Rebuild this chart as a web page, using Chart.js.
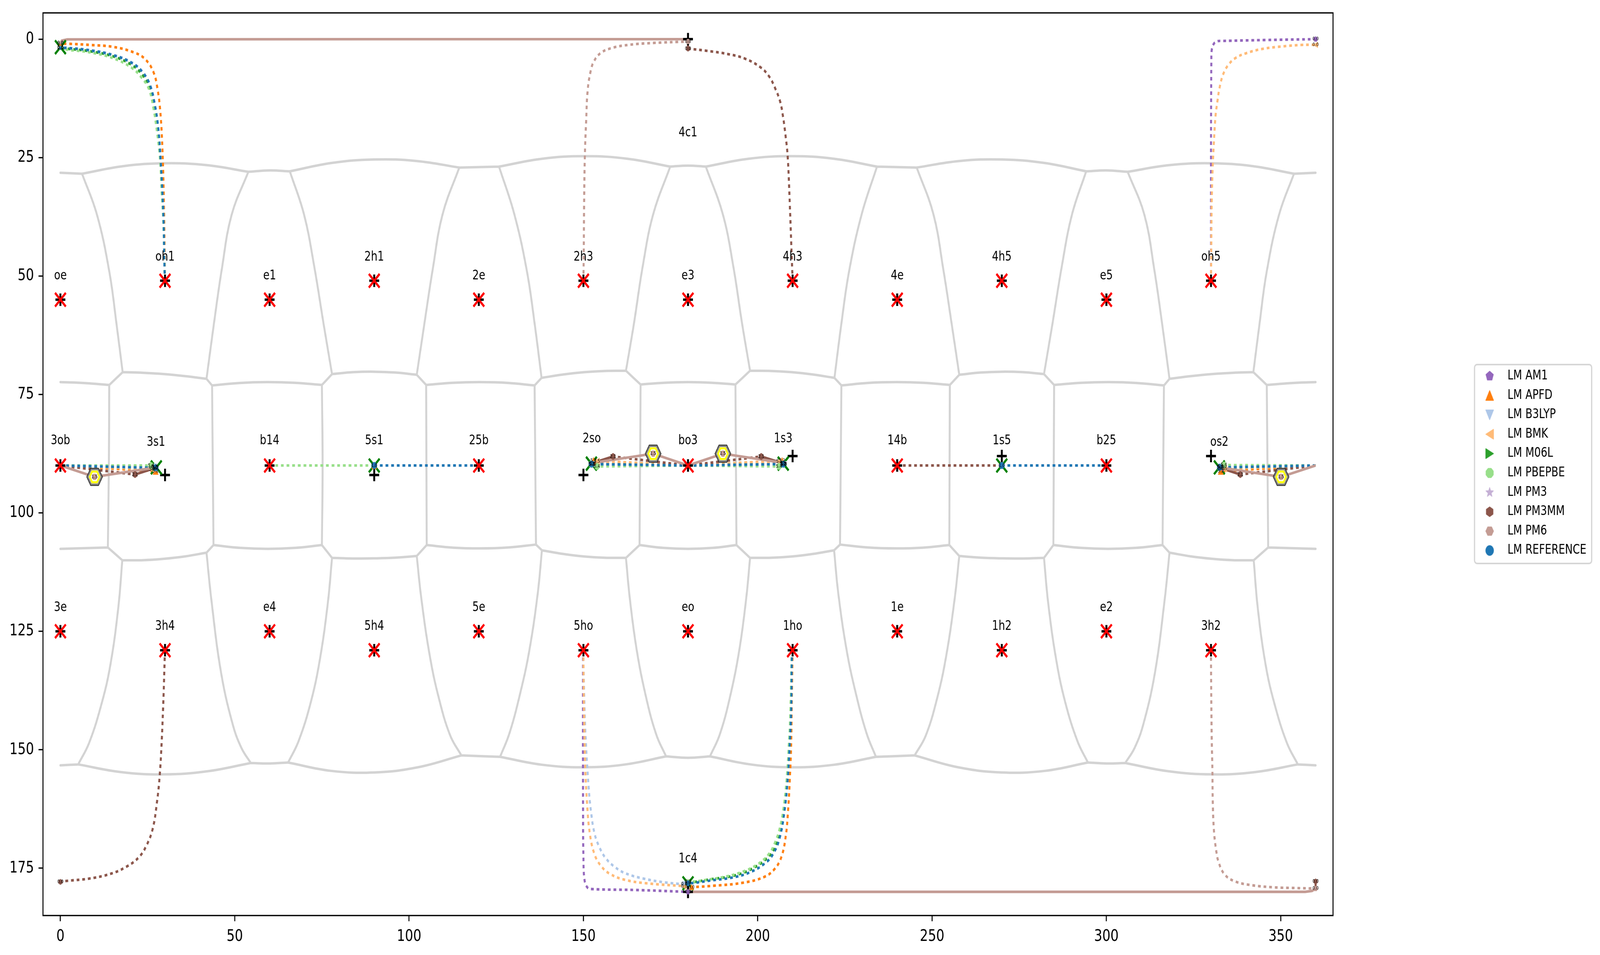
<!DOCTYPE html>
<html><head><meta charset="utf-8">
<style>html,body{margin:0;padding:0;background:#fff;overflow:hidden}canvas{display:block}</style>
<script src="https://cdn.jsdelivr.net/npm/chart.js@4"></script>
</head><body><canvas id="c" width="5190" height="2444"></canvas>
<script>
const xTicks=[0,50,100,150,200,250,300,350];
const yTicks=[0,25,50,75,100,125,150,175];
const methodNames=['LM AM1','LM APFD','LM B3LYP','LM BMK','LM M06L','LM PBEPBE','LM PM3','LM PM3MM','LM PM6','LM REFERENCE'];
const methodColors=['#9467bd','#ff7f0e','#aec7e8','#ffbb78','#2ca02c','#98df8a','#c5b0d5','#8c564b','#c49c94','#1f77b4'];
const methodShapes=['pentagon','triUp','triDown','triLeft','triRight','octagon','star','hexPointy','hexFlat','circle'];

const am1Dotted=[
 [[150,129],[149.9,130.5],[149.9,163.7],[150,172.6],[150.3,177.4],[151.06,179],[152.2,179.4],[164.66,179.6],[180,180]],
 [[330,51],[330,48.9],[330,21.6],[330.06,9.07],[330.1,4.87],[330.2,2.35],[330.7,1.1],[331.7,0.47],[333.2,0.38],[345.7,0.18],[360,0]],
 [[0,90],[26.8,90.6]],[[180,90],[152.8,89.6]],[[180,90],[207.2,89.6]],[[360,90],[333.2,90.6]]];
const apfdDotted=[
 [[30,51],[29.9,46.8],[29.75,37.6],[29.48,28.4],[29.14,21.2],[28.63,15.15],[27.9,10.75],[26.7,6.97],[24.33,4.24],[21.3,2.86],[15.2,1.64],[8.43,1.22],[2,0.97],[0,1]],
 [[210,129],[209.8,137.2],[209.6,148.2],[209.2,156.2],[208.7,162.8],[208.06,168.1],[206.8,172.6],[204.8,175.2],[201.7,176.9],[195.6,178.1],[187.5,178.7],[181.4,179],[180,179]],
 [[0,90],[27.3,91.2]],[[180,90],[152.9,89]],[[180,90],[207,89]],[[360,90],[332.8,91.2]]];
const b3lypDotted=[
 [[30,51],[29.85,48.1],[29.6,38.4],[29.25,32.1],[28.75,25.4],[28.05,18.6],[27.05,13.6],[25.7,9.6],[23.7,7],[20.7,5],[15.2,3.3],[8.4,2.3],[1.7,1.8],[0,1.8]],
 [[150,129],[150,131.4],[150.55,146],[151.5,157.9],[152.2,163.2],[153.2,167.7],[154.6,170.6],[156.4,172.9],[159.1,174.8],[162.1,176.1],[167.2,177.2],[173.3,178],[178.9,178.4],[180,178.4]],
 [[0,90],[26.9,90.3]],[[180,90],[152.5,89.8]],[[180,90],[207.5,89.8]],[[360,90],[332.8,90.3]]];
const bmkDotted=[
 [[150,129],[150,131.4],[150.2,142.9],[150.55,154],[151.06,161.5],[151.8,167.5],[153.1,171.9],[154.9,174.4],[157.6,176.2],[162.1,177.5],[168.2,178.2],[178.9,178.8],[180,178.9]],
 [[330,51],[330.06,46],[330.2,34.2],[330.5,26.7],[330.9,20.8],[331.3,16.2],[331.85,13.06],[332.5,10.1],[333.5,7.39],[334.9,5.5],[336.9,4.04],[340,2.99],[344.7,2.06],[350.8,1.51],[355.9,1.22],[360,1.2]],
 [[0,90],[26.3,90.8]],[[180,90],[153.9,89.1]],[[180,90],[206.2,89.1]],[[360,90],[333.8,90.7]]];
const m06lDotted=[
 [[30,51],[29.85,48.1],[29.55,38.4],[29.1,32.1],[28.65,25.4],[27.9,19],[26.9,14],[25.5,10],[23.5,7.5],[20.6,5.5],[15.2,3.65],[8.4,2.55],[1.7,2],[0,1.85]],
 [[210,129],[209.75,130.5],[209.4,141.6],[208.85,150.4],[208.3,156.6],[207.4,162.8],[206.2,167.5],[204.8,170.8],[202.8,172.8],[198.7,175],[193.6,176.5],[186,177.4],[182,177.9],[180,178]],
 [[0,90],[27.2,90.4]],[[180,90],[152.3,89.7]],[[180,90],[207.5,89.7]],[[360,90],[332.6,90.4]]];
const pbepbeDotted=[
 [[30,51],[29.85,48.1],[29.5,38.4],[29,32.1],[28.56,25.4],[27.7,19.6],[26.7,14.7],[25.35,10.5],[23.3,8.15],[20.6,6.13],[15.2,4.04],[8.43,2.78],[2,2.23],[0,1.9]],
 [[210,129],[209.7,131],[209.4,141.6],[208.8,150.4],[208.2,157],[207.3,162.8],[206.3,166.6],[205,169.5],[203.2,172],[199.7,174.3],[195.1,175.9],[190,176.9],[185,177.5],[182.2,177.8],[180,177.9]],
 [[0,90],[26,90]],[[180,90],[153.9,90.2]],[[180,90],[206.1,90.2]],[[360,90],[333.7,89.9]],[[60,90],[90,90]]];
const pm3Dotted=[];
const pm3mmDotted=[
 [[210,51],[209.7,45],[209.2,35],[208.6,24.9],[208,20.5],[207.2,16.1],[206.4,13.1],[205,10.38],[203.3,7.91],[200.8,5.94],[196.4,4.13],[191.6,3.17],[185.1,2.43],[180,2]],
 [[30,129],[29.9,131],[29.6,138.1],[29.07,147.9],[28.46,155.6],[27.65,161.3],[26.5,166.6],[24.76,170.1],[22.5,172.7],[18.9,174.7],[14.35,176.2],[8.26,177.2],[1.66,177.7],[0,177.9]],
 [[0,90],[21.4,91.9]],[[180,90],[158.5,88.1]],[[180,90],[201,88.1]],[[360,90],[338.4,91.9]],[[240,90],[270,90]]];
const pm6Dotted=[
 [[150,51],[150.1,45],[150.2,35],[150.4,25],[150.8,17],[151.2,11],[152,7],[153,4.7],[155,2.9],[158,1.9],[163,1.2],[170,0.8],[180,0.5]],
 [[330,129],[330,131.8],[330.2,147.3],[330.4,154.4],[330.5,160.6],[330.8,166.6],[331.45,171.1],[332.3,174],[334,176.4],[336.9,177.8],[341.7,178.6],[348.1,179.05],[354.5,179.2],[360,179.3]]];
const referenceDotted=[
 [[30,51],[29.85,48.1],[29.58,38.4],[29.24,32.1],[28.73,25.4],[28.05,18.7],[27.04,13.7],[25.7,9.7],[23.66,7.06],[20.6,5.08],[15.2,3.4],[8.43,2.36],[1.66,1.85],[0,1.85]],
 [[210,129],[209.8,130.5],[209.6,141.6],[209.07,150.4],[208.6,156.2],[207.7,162.8],[206.3,168.6],[204.5,171.9],[202.2,173.9],[197.7,175.9],[192.6,177],[186.5,177.6],[181.9,178.1],[180,178.2]],
 [[0,90],[27.3,90.5]],[[180,90],[152.3,89.7]],[[180,90],[207.3,89.7]],[[360,90],[332.5,90.4]],[[90,90],[120,90]],[[270,90],[300,90]]];
const dottedPaths=[am1Dotted,apfdDotted,b3lypDotted,bmkDotted,m06lDotted,pbepbeDotted,pm3Dotted,pm3mmDotted,pm6Dotted,referenceDotted];

const pm3mmSolid=[[[180,0.5],[180,2]],[[360,177.8],[360,179.3]],[[21.4,91.9],[27.3,90.5]],[[158.5,88.1],[152.6,89.5]],[[201,88.1],[207,89.5]],[[338.4,91.9],[332.6,90.5]]];
const pm6Solid=[[[0,0.8],[0.4,0.3],[2,0.05],[90,0],[180,0]],[[180,180],[357,180],[359,179.8],[360,179.3]],
 [[0,90],[9.8,92.4],[26.7,90.5]],[[180,90],[170,87.5],[153,89.4]],[[180,90],[190,87.5],[207,89.4]],[[360,90],[350.1,92.4],[333.3,90.5]]];
const solidPaths=[[],[],[],[],[],[],[],pm3mmSolid,pm6Solid,[]];

const am1Points=[[360,0,'0.0'],[180,180,'0.0'],[26.8,90.6,'5.6'],[152.8,89.6,'5.6'],[207.2,89.6,'5.6'],[333.2,90.6,'5.6']];
const apfdPoints=[[0,1,'0.0'],[181,179,'0.0'],[27.3,91.2,'5.2'],[152.9,89,'5.2'],[207,89,'5.2'],[332.8,91.2,'5.2'],[90,90,'1.0']];
const b3lypPoints=[[0,1.8,'0.0'],[178.9,178.4,'0.0'],[26.9,90.3,'5.3'],[152.5,89.8,'5.3'],[207.5,89.8,'5.3'],[332.8,90.3,'5.3']];
const bmkPoints=[[360,1.2,'0.0'],[178.9,178.9,'0.0'],[26.3,90.8,'5.5'],[153.9,89.1,'5.5'],[206.2,89.1,'5.5'],[333.8,90.7,'5.5']];
const m06lPoints=[[0,1.85,'0.0'],[180,178,'0.0'],[27.2,90.4,'5.3'],[152.3,89.7,'5.3'],[207.5,89.7,'5.3'],[332.6,90.4,'5.3']];
const pbepbePoints=[[0,1.9,'0.0'],[180,177.9,'0.0'],[26,90,'5.4'],[153.9,90.2,'5.4'],[206.1,90.2,'5.4'],[333.7,89.9,'5.4']];
const pm3Points=[];
const pm3mmPoints=[[180,2,'0.0'],[0,177.9,'0.0'],[360,177.8,'0.0'],[21.4,91.9,'2.1'],[158.5,88.1,'2.1'],[201,88.1,'2.1'],[338.4,91.9,'2.1']];
const pm6Points=[[180,0.5,'0.0'],[360,179.3,'0.0'],[0,0.8,'0.0'],[9.8,92.4,'1.5'],[170,87.5,'1.5'],[190,87.5,'1.5'],[350.1,92.4,'1.5']];
const referencePoints=[[0,1.85,'0.0'],[180,178.2,'0.0'],[27.3,90.5,'5.2'],[152.3,89.7,'5.2'],[207.3,89.7,'5.2'],[332.5,90.4,'5.2'],[90,90,'1.0'],[270,90,'1.0']];
const methodPoints=[am1Points,apfdPoints,b3lypPoints,bmkPoints,m06lPoints,pbepbePoints,pm3Points,pm3mmPoints,pm6Points,referencePoints];
const highlightedX=[9.8,170,190,350.1];
const highlightedY=[92.4,87.5,87.5,92.4];

const nodeX=[0,30,60,90,120,150,180,210,240,270,300,330, 0,60,120,180,240,300, 0,30,60,90,120,150,180,210,240,270,300,330];
const nodeY=[55,51,55,51,55,51,55,51,55,51,55,51, 90,90,90,90,90,90, 125,129,125,129,125,129,125,129,125,129,125,129];
const plusOnlyX=[180,180,30,90,150,210,270,330];
const plusOnlyY=[0,180,92,92,92,88,88,88];
const minimaX=[0,180,27.5,90,152.3,207.3,270,332.4];
const minimaY=[1.7,178.2,90.4,90,89.6,89.6,90,90.4];
const textNames=['oe','oh1','e1','2h1','2e','2h3','e3','4h3','4e','4h5','e5','oh5','3ob','3s1','b14','5s1','25b','2so','bo3','1s3','14b','1s5','b25','os2','3e','3h4','e4','5h4','5e','5ho','eo','1ho','1e','1h2','e2','3h2','4c1','1c4'];
const textX=[0,30,60,90,120,150,180,210,240,270,300,330,0,27.4,60,90,120,152.4,180,207.3,240,270,300,332.4,0,30,60,90,120,150,180,210,240,270,300,330,180,180];
const textY=[50,46,50,46,50,46,50,46,50,46,50,46,84.8,85.1,84.8,84.8,84.8,84.4,84.8,84.4,84.8,84.8,84.8,85.1,120,124,120,124,120,124,120,124,120,124,120,124,19.8,173.1];

const contourSegments=[
 [[0,28.2],[6.2,28.4]],[[6.2,28.4],[18.1,26.8],[30,26.2],[42,26.6],[53.9,28]],[[53.9,28],[60,27.7],[65.8,27.9]],[[65.8,27.9],[77.9,26.12],[90,25.4],[102.2,25.72],[114.4,27.1]],[[114.4,27.1],[125.8,26.9]],[[125.8,26.9],[138.1,25.25],[150.5,24.7],[162.7,25.25],[174.9,26.9]],[[174.9,26.9],[180,26.7],[185.1,26.9]],
 [[185.1,26.9],[197.3,25.25],[209.5,24.7],[221.9,25.25],[234.2,26.9]],[[234.2,26.9],[245.6,27.1]],[[245.6,27.1],[257.8,25.72],[270,25.4],[282.1,26.12],[294.2,27.9]],[[294.2,27.9],[300,27.7],[306.1,28]],[[306.1,28],[318,26.6],[330,26.2],[341.9,26.8],[353.8,28.4]],[[353.8,28.4],[360,28.2]],
 [[6.2,28.4],[10.5,37.1],[14.05,49.2],[16.1,60.2],[17.85,70.3]],[[53.9,28],[49.1,37.1],[46.3,48.5],[44,60.2],[41.9,71.7]],[[65.8,27.9],[69.9,37.1],[72.8,48],[75.5,60.2],[77.9,70.7]],[[114.4,27.1],[109.6,37],[106.8,48.5],[104.4,60],[102.2,70.85]],[[125.8,26.9],[130.2,37],[133.8,49],[136,60],[138,71.5]],[[174.9,26.9],[170,37],[167,48],[164.5,60],[162.2,70]],
 [[185.1,26.9],[190,37],[193,48],[195.5,60],[197.8,70]],[[234.2,26.9],[229.8,37],[226.2,49],[224,60],[222,71.5]],[[245.6,27.1],[250.4,37],[253.2,48.5],[255.6,60],[257.8,70.85]],[[294.2,27.9],[290.1,37.1],[287.2,48],[284.5,60.2],[282.1,70.7]],[[306.1,28],[310.9,37.1],[313.7,48.5],[316,60.2],[318.1,71.7]],[[353.8,28.4],[349.5,37.1],[345.95,49.2],[343.9,60.2],[342.15,70.3]],
 [[0,72.4],[7,72.6],[14,73]],[[14,73],[17.85,70.3]],[[17.85,70.3],[23.8,70.43],[29.8,70.7],[35.8,71.13],[41.9,71.7]],[[41.9,71.7],[43.5,73.1]],[[43.5,73.1],[51.4,72.58],[59.2,72.4],[67.1,72.54],[75,73]],[[75,73],[77.9,70.7]],[[77.9,70.7],[84,70.3],[90,70.2],[96.1,70.38],[102.2,70.85]],[[102.2,70.85],[104.9,73]],[[104.9,73],[112.6,72.54],[120.3,72.4],[128.2,72.56],[136,73.1]],[[136,73.1],[138,71.5]],[[138,71.5],[144.2,70.79],[150.3,70.3],[156.3,70.04],[162.2,70]],[[162.2,70],[166.4,72.9]],[[166.4,72.9],[173.2,72.53],[180,72.4],[186.8,72.53],[193.6,72.9]],
 [[193.6,72.9],[197.8,70]],[[197.8,70],[203.7,70.04],[209.7,70.3],[215.8,70.79],[222,71.5]],[[222,71.5],[224,73.1]],[[224,73.1],[231.8,72.56],[239.7,72.4],[247.4,72.54],[255.1,73]],[[255.1,73],[257.8,70.85]],[[257.8,70.85],[263.9,70.38],[270,70.2],[276,70.3],[282.1,70.7]],[[282.1,70.7],[285,73]],[[285,73],[292.9,72.54],[300.8,72.4],[308.6,72.58],[316.5,73.1]],[[316.5,73.1],[318.1,71.7]],[[318.1,71.7],[324.2,71.13],[330.2,70.7],[336.2,70.43],[342.15,70.3]],[[342.15,70.3],[346,73]],[[346,73],[353,72.6],[360,72.4]],
 [[14,73],[13.9,90],[13.6,107.3]],[[43.5,73.1],[43.9,106.8]],[[75,73],[75.2,90],[75,106.8]],[[104.9,73],[105.05,106.8]],[[136,73.1],[136.4,106.7]],[[166.4,72.9],[166.1,106.8]],[[193.6,72.9],[193.9,106.8]],[[224,73.1],[223.6,106.7]],[[255.1,73],[254.95,106.8]],[[285,73],[284.8,106.8]],[[316.5,73.1],[316.1,106.8]],[[346,73],[346.4,107.3]],
 [[0,107.6],[13.6,107.3]],[[13.6,107.3],[17.75,110]],[[17.75,110],[23.7,109.98],[29.6,109.7],[35.8,109.18],[41.9,108.4]],[[41.9,108.4],[43.9,106.8]],[[43.9,106.8],[51.7,107.4],[59.5,107.6],[67.2,107.4],[75,106.8]],[[75,106.8],[77.9,109.5]],[[77.9,109.5],[84,109.64],[90,109.6],[96.1,109.45],[102.2,109.1]],[[102.2,109.1],[105.05,106.8]],[[105.05,106.8],[112.7,107.34],[120.3,107.5],[128.3,107.31],[136.4,106.7]],[[136.4,106.7],[138.1,107.9]],[[138.1,107.9],[144.2,108.67],[150.2,109.2],[156.2,109.47],[162.2,109.5]],[[162.2,109.5],[166.1,106.8]],[[166.1,106.8],[173,107.4],[180,107.6],[187,107.4],[193.9,106.8]],
 [[193.9,106.8],[197.8,109.5]],[[197.8,109.5],[203.8,109.47],[209.8,109.2],[215.8,108.67],[221.9,107.9]],[[221.9,107.9],[223.6,106.7]],[[223.6,106.7],[231.7,107.31],[239.7,107.5],[247.3,107.34],[254.95,106.8]],[[254.95,106.8],[257.8,109.1]],[[257.8,109.1],[263.9,109.45],[270,109.6],[276,109.64],[282.1,109.5]],[[282.1,109.5],[284.8,106.8]],[[284.8,106.8],[292.8,107.4],[300.5,107.6],[308.3,107.4],[316.1,106.8]],[[316.1,106.8],[318.1,108.4]],[[318.1,108.4],[324.2,109.18],[330.4,109.7],[336.3,109.98],[342.25,110]],[[342.25,110],[346.4,107.3]],[[346.4,107.3],[360,107.6]],
 [[17.75,110],[16.6,120],[14.35,132],[11.8,140.3],[8.26,148.5],[5.1,153.1]],[[41.9,108.4],[43.3,118.4],[46.07,133.7],[49.4,144.6],[51.9,149.6],[54.6,152.8]],[[77.9,109.5],[76.7,119],[74.4,131],[71.8,140],[68.3,148.2],[65.3,152.7]],[[102.2,109.1],[103.5,118],[105.9,130],[108.5,139],[111.8,147],[115,151.2]],[[138.1,107.9],[136.9,117],[134.5,129],[131.9,138],[128.8,146.5],[126.1,151.5]],[[162.2,109.5],[163.3,118],[165.3,129],[168,139],[170.9,146.8],[173.7,151.4]],
 [[197.8,109.5],[196.7,118],[194.7,129],[192,139],[189.1,146.8],[186.3,151.4]],[[221.9,107.9],[223.1,117],[225.5,129],[228.1,138],[231.2,146.5],[233.9,151.5]],[[257.8,109.1],[256.5,118],[254.1,130],[251.5,139],[248.2,147],[245,151.2]],[[282.1,109.5],[283.3,119],[285.6,131],[288.2,140],[291.7,148.2],[294.7,152.7]],[[318.1,108.4],[316.7,118.4],[313.93,133.7],[310.6,144.6],[308.1,149.6],[305.4,152.8]],[[342.25,110],[343.4,120],[345.65,132],[348.2,140.3],[351.74,148.5],[354.9,153.1]],
 [[0,153.3],[5.1,153.1]],[[5.1,153.1],[17.3,154.71],[29.6,155.2],[42.1,154.56],[54.6,152.8]],[[54.6,152.8],[60,152.9],[65.3,152.7]],[[65.3,152.7],[77.6,154.46],[90,154.8],[102.5,153.71],[115,151.2]],[[115,151.2],[126.1,151.5]],[[126.1,151.5],[138,153.16],[150,153.7],[161.9,153.12],[173.7,151.4]],[[173.7,151.4],[180,151.7],[186.3,151.4]],
 [[186.3,151.4],[198.1,153.12],[210,153.7],[222,153.16],[233.9,151.5]],[[233.9,151.5],[245,151.2]],[[245,151.2],[257.5,153.71],[270,154.8],[282.4,154.46],[294.7,152.7]],[[294.7,152.7],[300,152.9],[305.4,152.8]],[[305.4,152.8],[317.9,154.56],[330.4,155.2],[342.7,154.71],[354.9,153.1]],[[354.9,153.1],[360,153.3]]
];

const FONT='"DejaVu Sans"';
Chart.defaults.font.family=FONT;
const LEFT=139.4,RIGHT=4324,TOP=33,BOTTOM=2343;

function polygon(g,c,r,n,start){g.beginPath();for(let i=0;i<n;i++){const a=start+i*2*Math.PI/n;g[i?'lineTo':'moveTo'](c+r*Math.cos(a),c+r*Math.sin(a));}g.closePath();}
function makeMarker(shape,color,size){
 const cv=document.createElement('canvas');const d=Math.ceil(size)+6;cv.width=d;cv.height=d;
 const g=cv.getContext('2d');const c=d/2,r=size/2;g.fillStyle=color;g.strokeStyle=color;g.lineJoin='round';g.lineWidth=Math.max(1,size/14);
 const rr=r-g.lineWidth/2;g.beginPath();
 const tri=(pts)=>{g.moveTo(c+pts[0][0]*rr,c+pts[0][1]*rr);g.lineTo(c+pts[1][0]*rr,c+pts[1][1]*rr);g.lineTo(c+pts[2][0]*rr,c+pts[2][1]*rr);g.closePath();};
 if(shape==='circle'){g.arc(c,c,r,0,7);g.fill();return cv;}
 if(shape==='triUp')tri([[0,-1],[-1,1],[1,1]]);
 if(shape==='triDown')tri([[0,1],[-1,-1],[1,-1]]);
 if(shape==='triLeft')tri([[-1,0],[1,-1],[1,1]]);
 if(shape==='triRight')tri([[1,0],[-1,-1],[-1,1]]);
 if(shape==='pentagon')polygon(g,c,rr,5,-Math.PI/2);
 if(shape==='octagon')polygon(g,c,rr*1.02,8,Math.PI/8);
 if(shape==='hexPointy')polygon(g,c,rr,6,-Math.PI/2);
 if(shape==='hexFlat')polygon(g,c,rr,6,0);
 if(shape==='star'){for(let i=0;i<10;i++){const a=-Math.PI/2+i*Math.PI/5,q=i%2?rr*0.42:rr;g[i?'lineTo':'moveTo'](c+q*Math.cos(a),c+q*Math.sin(a));}g.closePath();}
 g.fill();g.stroke();return cv;
}
function makeHighlight(){
 const cv=document.createElement('canvas');cv.width=60;cv.height=60;const g=cv.getContext('2d');
 [['#000',26.6],['#808080',24.8],['#fff',19.6],['#ffff00',18.8],['#fff',12.8]].forEach(([col,r])=>{g.fillStyle=col;polygon(g,30,r,6,0);g.fill();});
 return cv;
}
const flat=(segs)=>{const out=[];segs.forEach(s=>{s.forEach(p=>out.push({x:p[0],y:p[1]}));out.push({x:null,y:null});});return out;};
const datasets=[];
datasets.push({label:'contours',data:flat(contourSegments),showLine:true,pointRadius:0,borderColor:'#d3d3d3',borderWidth:6.25,tension:0.4,borderCapStyle:'round',order:100});
methodNames.forEach((n,i)=>{
 if(dottedPaths[i].length)datasets.push({label:n+' path',data:flat(dottedPaths[i]),showLine:true,pointRadius:0,borderColor:methodColors[i],borderWidth:6.6,borderDash:[9,9.3],tension:0.4,order:90-i});
 if(solidPaths[i].length)datasets.push({label:n+' link',data:flat(solidPaths[i]),showLine:true,pointRadius:0,borderColor:methodColors[i],borderWidth:6.6,tension:0,order:80-i});
});
const xy=(xs,ys)=>xs.map((x,i)=>({x,y:ys[i]}));
datasets.push({label:'nodes plus',data:xy(nodeX.concat(plusOnlyX),nodeY.concat(plusOnlyY)),pointStyle:'cross',pointRadius:16,pointBorderColor:'#000',pointBorderWidth:6.25,order:70});
datasets.push({label:'nodes',data:xy(nodeX,nodeY),pointStyle:'crossRot',pointRadius:24.7,pointBorderColor:'#ff0000',pointBorderWidth:6.25,order:69});
datasets.push({label:'minima',data:xy(minimaX,minimaY),pointStyle:'crossRot',pointRadius:24.7,pointBorderColor:'#008000',pointBorderWidth:6.25,order:68});
datasets.push({label:'highlight',data:xy(highlightedX,highlightedY),pointStyle:makeHighlight(),pointRadius:26,order:65});
const markerSize=p=>(p[0]===0&&p[1]<5)?9:(p[2]==='0.0'?15:18);
methodNames.forEach((n,i)=>{
 datasets.push({label:n,data:methodPoints[i].map(p=>({x:p[0],y:p[1]})),
  pointStyle:methodPoints[i].map(p=>makeMarker(methodShapes[i],methodColors[i],markerSize(p))),
  pointRadius:9,pointBackgroundColor:methodColors[i],pointBorderWidth:0,order:60-i});
});
const legendMarkers=methodShapes.map((s,i)=>makeMarker(s,methodColors[i],27));

const layoutPlugin={id:'placement',
 beforeLayout(chart){const l=chart.legend;if(l&&!l._fitWrapped){const f=l.fit;l.fit=function(){f.call(this);this.width=5190-RIGHT;};l._fitWrapped=true;}},
 afterLayout(chart){const l=chart.legend;if(!l)return;l.left=4774.4;l.right=5190;l.top=929.5;l.bottom=1470;l.width=l.right-l.left;l.height=l.bottom-l.top;},
 beforeDatasetsUpdate(chart){chart.getSortedVisibleDatasetMetas().forEach(m=>{m._sorted=false;});},
 beforeDraw(chart){const g=chart.ctx;g.save();g.fillStyle='#fff';g.fillRect(0,0,chart.width,chart.height);
  g.strokeStyle='#d6d6d6';g.lineWidth=4;g.beginPath();g.roundRect(4783,933,380,509,8);g.stroke();g.restore();},
 afterDatasetsDraw(chart){const g=chart.ctx,sx=chart.scales.x,sy=chart.scales.y;g.save();g.fillStyle='#000';g.textAlign='center';g.textBaseline='middle';
  g.font='12.5px '+FONT;
  methodPoints.forEach(list=>list.forEach(p=>g.fillText(p[2],sx.getPixelForValue(p[0]),sy.getPixelForValue(p[1]))));
  g.font='33.33px '+FONT;
  textNames.forEach((t,i)=>g.fillText(t,sx.getPixelForValue(textX[i]),sy.getPixelForValue(textY[i])));
  g.strokeStyle='#000';g.lineWidth=3.33;g.strokeRect(LEFT,TOP,RIGHT-LEFT,BOTTOM-TOP);g.restore();}
};
const axisCommon={grid:{drawOnChartArea:false,drawTicks:true,tickLength:14.6,tickWidth:3.33,tickColor:'#000'},border:{display:false}};
const canvasEl=document.getElementById('c');
new Chart(canvasEl,{type:'scatter',data:{datasets},plugins:[layoutPlugin],options:{
 responsive:false,devicePixelRatio:1,animation:false,events:[],
 layout:{autoPadding:false,padding:{top:TOP,left:0,right:0,bottom:0}},
 plugins:{tooltip:{enabled:false},title:{display:false},
  legend:{display:true,position:'right',align:'start',labels:{usePointStyle:true,pointStyleWidth:82.7,boxHeight:33.33,padding:16.27,color:'#000',font:{size:33.33,family:FONT},
   generateLabels:()=>methodNames.map((t,i)=>({text:t,pointStyle:legendMarkers[i],fillStyle:methodColors[i],strokeStyle:methodColors[i],lineWidth:0,hidden:false,fontColor:'#000'}))}}},
 scales:{
  x:{type:'linear',min:-5,max:365,...axisCommon,afterBuildTicks:s=>{s.ticks=xTicks.map(v=>({value:v}));},afterFit:s=>{s.height=2444-BOTTOM;},
   ticks:{color:'#000',font:{size:41.67,family:FONT},padding:14.6,maxRotation:0,autoSkip:false,callback:v=>String(v)}},
  y:{type:'linear',reverse:true,min:-5,max:185,...axisCommon,afterBuildTicks:s=>{s.ticks=yTicks.map(v=>({value:v}));},afterFit:s=>{s.width=LEFT;},
   ticks:{color:'#000',font:{size:41.67,family:FONT},padding:14.6,autoSkip:false,callback:v=>String(v)}}
 }}});
// The real window can be narrower than the 5190 px the chart is drawn at; fit the whole drawing into it.
canvasEl.style.width=Math.min(window.innerWidth,5190)+'px';
canvasEl.style.height=Math.min(window.innerHeight,2444)+'px';
</script></body></html>
